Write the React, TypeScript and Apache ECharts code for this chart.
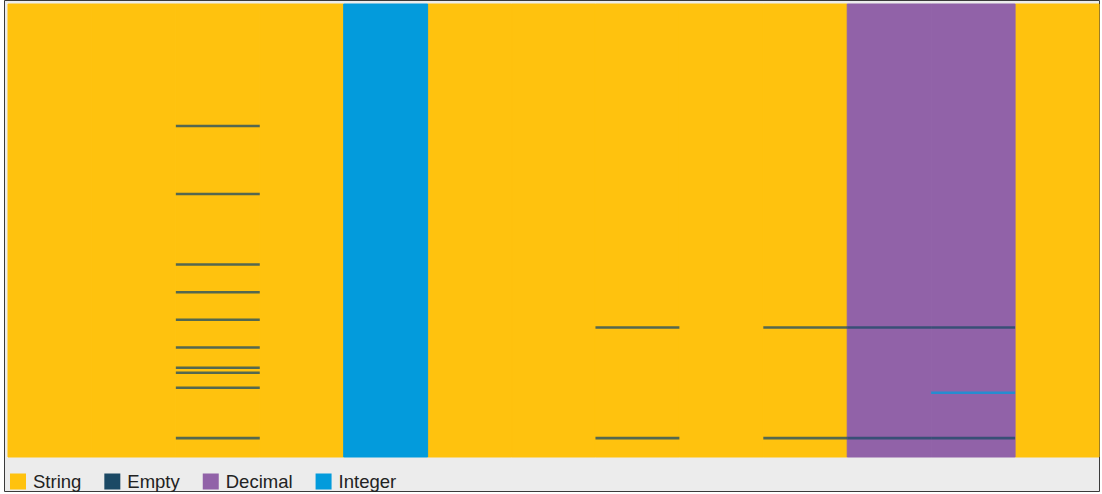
import React, { useEffect, useRef } from "react";
import * as echarts from "echarts";

const rowCount = 180;
const columns = ["F1", "F2", "F3", "F4", "F5", "F6", "F7", "F8", "F9", "F10", "F11", "F12", "F13"];
const columnTypes = [
  "String", "String", "String", "String", "Integer", "String", "String",
  "String", "String", "String", "Decimal", "Decimal", "String",
];
const typeNames = ["String", "Empty", "Decimal", "Integer"];
const typeColors = ["#FFC20E", "#1B4965", "#9162A8", "#039BDC"];

// exception cells: [columnIndex, rowIndex]
const emptyCells: number[][] = [
  [2, 48], [2, 75], [2, 103], [2, 114], [2, 125], [2, 136], [2, 144], [2, 146], [2, 152], [2, 172],
  [7, 128], [7, 172],
  [9, 128], [9, 172],
  [10, 128], [10, 172],
  [11, 128], [11, 172],
];
const integerCells: number[][] = [[11, 154]];

export default function App() {
  const ref = useRef<HTMLDivElement>(null);
  useEffect(() => {
    if (!ref.current) return;
    const chart = echarts.init(ref.current, null, { renderer: "svg" });

    const makeRender = (color: string, opacity: number, seam: boolean) => (params: any, api: any) => {
      const col = api.value(0);
      const r0 = api.value(1);
      const r1 = api.value(2);
      const a = api.coord([col, r0]);
      const b = api.coord([col, r1]);
      const w = api.size([1, 0])[0];
      return {
        type: "rect",
        shape: { x: a[0] - w / 2, y: a[1], width: w, height: b[1] - a[1] },
        style: seam
          ? { fill: color, stroke: color, lineWidth: 1, opacity }
          : { fill: color, opacity },
      };
    };

    const series: any[] = typeNames.map((t, i) => {
      const baseCols = columnTypes
        .map((ct, ci) => (ct === t ? [ci, 0, rowCount] : null))
        .filter((d) => d) as number[][];
      if (t === "Empty") {
        return [
          {
            name: t,
            type: "custom",
            renderItem: makeRender(typeColors[i], 0.75, false),
            data: emptyCells.map(([c, r]) => [c, r, r + 1]),
            itemStyle: { color: typeColors[i] },
            z: 4,
          },
        ];
      }
      const out: any[] = [
        {
          name: t,
          type: "custom",
          renderItem: makeRender(typeColors[i], 1, true),
          data: baseCols,
          itemStyle: { color: typeColors[i] },
          z: 2,
        },
      ];
      if (t === "Integer") {
        out.push({
          name: t,
          type: "custom",
          renderItem: makeRender(typeColors[i], 0.75, false),
          data: integerCells.map(([c, r]) => [c, r, r + 1]),
          itemStyle: { color: typeColors[i] },
          z: 3,
        });
      }
      return out;
    }).flat();

    chart.setOption({
      animation: false,
      backgroundColor: "#ffffff",
      graphic: [
        {
          type: "rect",
          z: -10,
          shape: { x: 4.5, y: 0.5, width: 1095, height: 491 },
          style: { fill: "#ececec", stroke: "#3a3a3a", lineWidth: 1 },
        },
      ],
      grid: { left: 8, right: 3, top: 4, bottom: 37 },
      xAxis: {
        type: "category",
        data: columns,
        show: false,
        boundaryGap: true,
      },
      yAxis: {
        type: "value",
        min: 0,
        max: rowCount,
        inverse: true,
        show: false,
        splitLine: { show: false },
      },
      legend: {
        data: typeNames,
        left: 10,
        top: 472,
        padding: 0,
        icon: "rect",
        itemWidth: 16,
        itemHeight: 16,
        itemGap: 23,
        textStyle: {
          fontFamily: "Liberation Sans, Arial, sans-serif",
          fontSize: 18.5,
          color: "#222222",
          padding: [0, 0, 0, 2],
        },
        selectedMode: false,
      },
      series,
    });
    return () => chart.dispose();
  }, []);

  return (
    <div
      ref={ref}
      style={{ position: "absolute", left: 0, top: 0, width: 1102, height: 494 }}
    />
  );
}
